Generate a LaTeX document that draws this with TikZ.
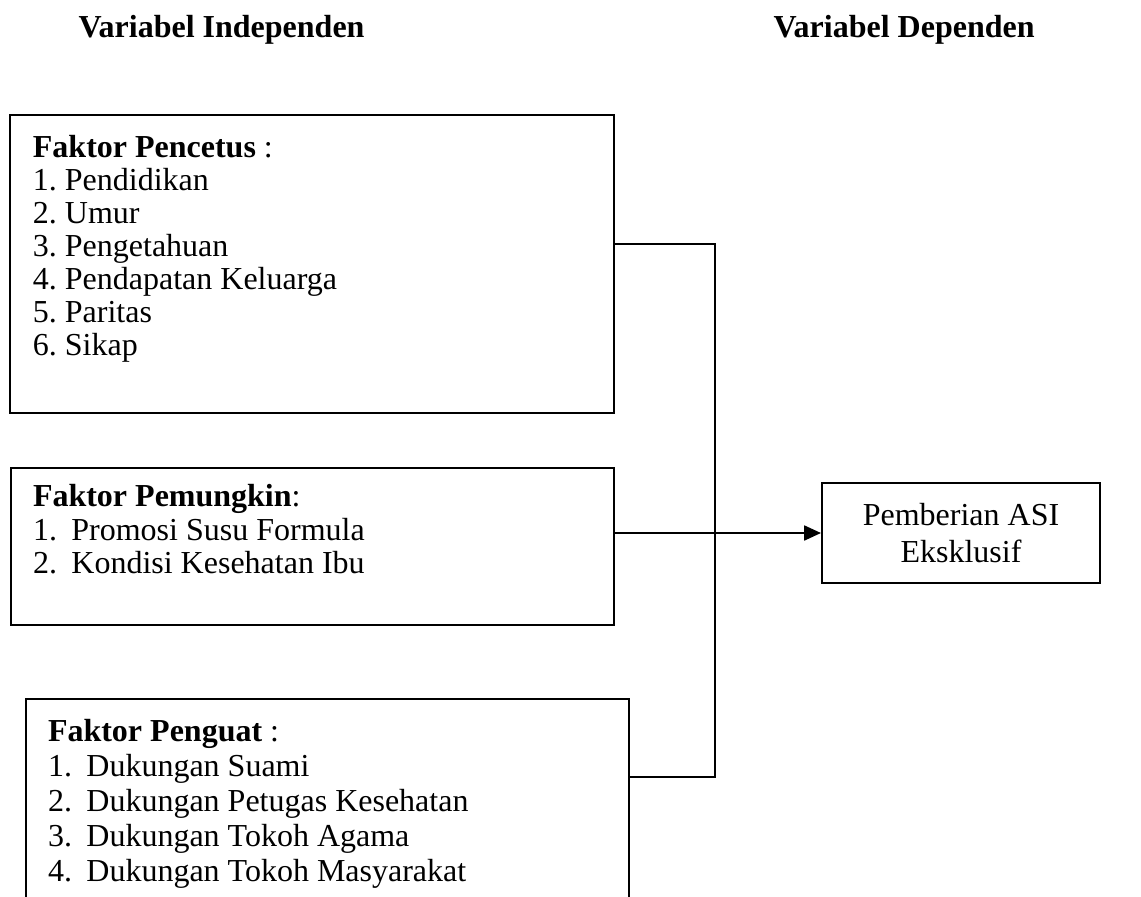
\documentclass[tikz,border=0pt]{standalone}
\usepackage{fontspec}
\setmainfont{Liberation Serif}
\usetikzlibrary{arrows.meta,positioning}

\newcommand{\itm}[1]{\makebox[14.4pt][l]{#1}}

\begin{document}
\frenchspacing
\begin{tikzpicture}[
  x=0.375pt, y=-0.375pt,
  font=\fontsize{12}{12.4}\selectfont,
  head/.style={anchor=base west,inner sep=0pt,font=\fontsize{12}{12.4}\selectfont\bfseries},
  fbox/.style={draw,line width=0.75pt,anchor=north west,inner sep=0pt},
  dep/.style={draw,line width=0.75pt,minimum width=104.25pt,minimum height=37.5pt,
              align=center,inner sep=0pt,font=\fontsize{12}{13.8}\selectfont},
  ln/.style={-,line width=0.75pt},
  ar/.style={-{Triangle[length=6.3pt,width=5.6pt]},line width=0.75pt}]

\useasboundingbox (0,0) rectangle (1141,897);
\clip (0,0) rectangle (1141,897);

% ---- column headings -----------------------------------------------------
\node[head] (hind) at (78,37)  {Variabel Independen};
\node[head] (hdep) at (773,37) {Variabel Dependen};

% ---- independent variables: three factor boxes ---------------------------
\node[fbox] (pencetus) at (9,114) {\parbox[c][111.75pt][t]{226.5pt}{\leftskip=8.6pt
  \rule{0pt}{15.75pt}\textbf{Faktor Pencetus} :\\
  1. Pendidikan\\
  2. Umur\\
  3. Pengetahuan\\
  4. Pendapatan Keluarga\\
  5. Paritas\\
  6. Sikap}};

\node[fbox] (pemungkin) at (10,467) {\parbox[c][58.9pt][t]{226.1pt}{\leftskip=8.25pt
  \rule{0pt}{14.6pt}\textbf{Faktor Pemungkin}:\\
  \itm{1.}Promosi Susu Formula\\
  \itm{2.}Kondisi Kesehatan Ibu}};

% the lower box runs past the bottom of the page
\node[fbox] (penguat) at (25,698) {\parbox[c][101.25pt][t]{226.1pt}{\leftskip=8.25pt
  \fontsize{12}{13.1}\selectfont
  \rule{0pt}{16.1pt}\textbf{Faktor Penguat} :\\
  \itm{1.}Dukungan Suami\\
  \itm{2.}Dukungan Petugas Kesehatan\\
  \itm{3.}Dukungan Tokoh Agama\\
  \itm{4.}Dukungan Tokoh Masyarakat}};

% ---- dependent variable --------------------------------------------------
\node[dep] (asi) at (961,533) {Pemberian ASI\\ Eksklusif};

% ---- connectors ----------------------------------------------------------
\coordinate (jtop) at (715,244);
\coordinate (jbot) at (715,777);
\draw[ln] (pencetus.east |- jtop) -- (jtop) -- (jbot) -- (penguat.east |- jbot);
\draw[ar] (pemungkin.east |- asi.west) -- (asi.west);
\end{tikzpicture}
\end{document}
